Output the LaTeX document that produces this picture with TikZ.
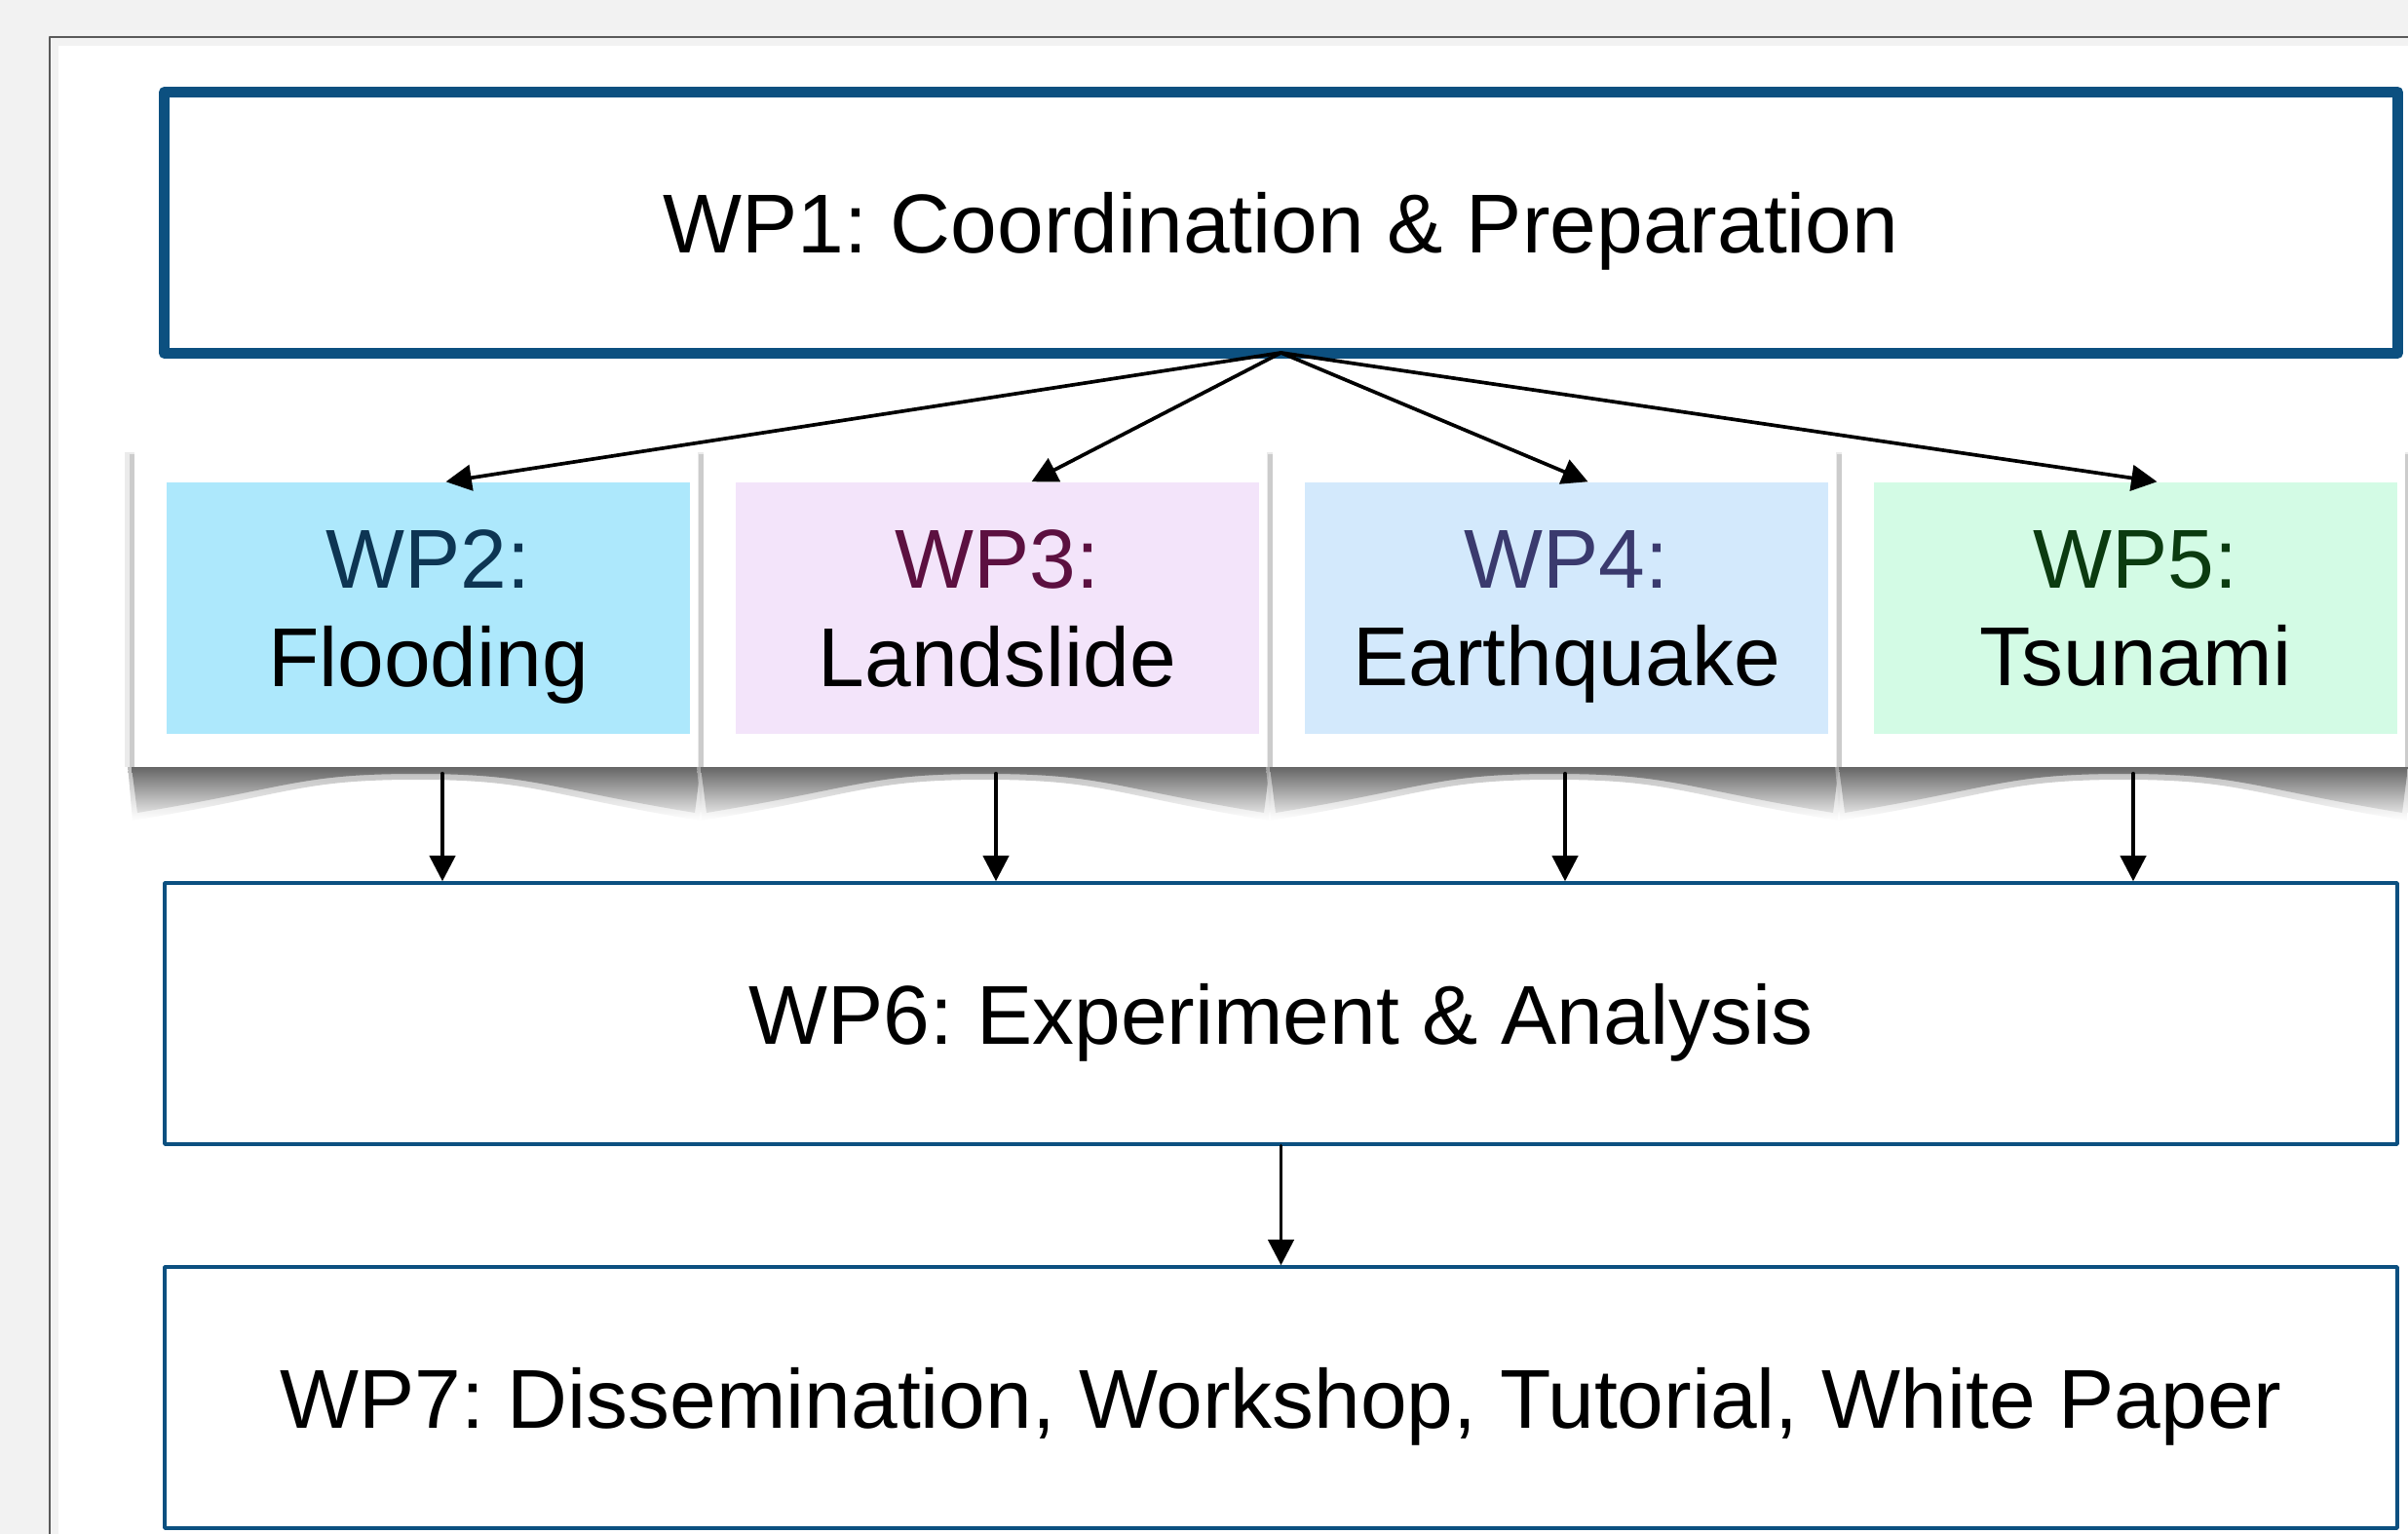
\documentclass[tikz,border=0pt]{standalone}
\usepackage{fontspec}
\setmainfont{Liberation Sans}
\usepackage{tikz}
\usetikzlibrary{arrows.meta,positioning}
\frenchspacing

\definecolor{wpblue}{HTML}{0C5080}
\definecolor{pagegray}{HTML}{F2F2F2}
\definecolor{framegray}{HTML}{5A5A5A}
\definecolor{floodfill}{HTML}{ADE8FC}
\definecolor{floodtext}{HTML}{0D3553}
\definecolor{slidefill}{HTML}{F3E4FA}
\definecolor{slidetext}{HTML}{5C1040}
\definecolor{quakefill}{HTML}{D3E9FC}
\definecolor{quaketext}{HTML}{3A3A6E}
\definecolor{tsunfill}{HTML}{D3FBE5}
\definecolor{tsuntext}{HTML}{0B3B10}

\tikzset{
	wpbox/.style={draw=wpblue, line width=1pt, fill=white, minimum width=22.91cm, minimum height=2.68cm, inner sep=0pt, text depth=0pt, font=\fontsize{24.4}{28.5}\selectfont},
	hazard/.style={minimum width=5.37cm, minimum height=2.58cm, inner sep=0pt, align=center, font=\fontsize{24.4}{28.5}\selectfont},
	card/.style={fill=white, minimum width=5.78cm, minimum height=3.24cm, inner sep=0pt},
	flow/.style={->, line width=1.05pt}
}

\begin{document}
\begin{tikzpicture}[line cap=round,line join=round,>={Triangle[length=7.5pt,width=7.5pt]},x=1cm,y=1cm]
		\clip (0,0) rectangle (24.71,-15.74);
		\fill[pagegray] (0,0) rectangle (24.71,-15.74);
		\fill[white] (0.60,-0.47) rectangle (24.71,-15.74);
		\draw[framegray, line width=0.6pt] (0.51,-15.74) -- (0.51,-0.38) -- (24.71,-0.38);
		% shadows under the hazard cards
		\foreach \i in {0,1,2,3} {
			\pgfmathsetmacro{\xl}{1.38+5.84*\i}
			\pgfmathsetmacro{\xr}{\xl+5.78}
			\pgfmathsetmacro{\xc}{\xl+2.89}
			\shade[top color=black!35, bottom color=white, opacity=0.8] (\xl-0.07,-7.85) -- (\xl-0.02,-8.42) .. controls (\xl+1.6,-8.15) and (\xc-1.2,-8.0) .. (\xc,-8.0) .. controls (\xc+1.2,-8.0) and (\xr-1.6,-8.15) .. (\xr+0.02,-8.42) -- (\xr+0.07,-7.85) -- cycle;
			\shade[top color=black!60, bottom color=black!12] (\xl-0.03,-7.87) -- (\xl+0.03,-8.34) .. controls (\xl+1.6,-8.08) and (\xc-1.2,-7.94) .. (\xc,-7.94) .. controls (\xc+1.2,-7.94) and (\xr-1.6,-8.08) .. (\xr-0.03,-8.34) -- (\xr+0.03,-7.87) -- cycle;
			\fill[black!8] (\xl-0.1,-4.64) rectangle (\xr+0.1,-7.87);
			\fill[black!20] (\xl-0.05,-4.66) rectangle (\xr+0.05,-7.87);
		}
		\node[card] (card2) at (4.27,-6.25) {};
		\node[card] (card3) at (10.11,-6.25) {};
		\node[card] (card4) at (15.95,-6.25) {};
		\node[card] (card5) at (21.79,-6.25) {};
		\node[hazard, fill=floodfill] (wp2) at (4.395,-6.24) {\textcolor{floodtext}{WP2:}\\\smash{Flooding}};
		\node[hazard, fill=slidefill] (wp3) at (10.235,-6.24) {\textcolor{slidetext}{WP3:}\\\smash{Landslide}};
		\node[hazard, fill=quakefill] (wp4) at (16.075,-6.24) {\textcolor{quaketext}{WP4:}\\\smash{Earthquake}};
		\node[hazard, fill=tsunfill] (wp5) at (21.915,-6.24) {\textcolor{tsuntext}{WP5:}\\\smash{Tsunami}};
		% work packages
		\node[wpbox, line width=3.1pt, minimum width=22.92cm] (wp1) at (13.145,-2.285) {WP1: Coordination \& Preparation};
		\node[wpbox] (wp6) at (13.145,-10.40) {WP6: Experiment \& Analysis};
		\node[wpbox] (wp7) at (13.145,-14.34) {WP7: Dissemination, Workshop, Tutorial, White Paper};
		\foreach \i/\dx in {2/0.18,3/0.35,4/0.22,5/0.22}
			\draw[flow] ([yshift=0.06cm]wp1.south) -- ([xshift=\dx cm]wp\i.north);
		\foreach \i/\dx in {2/0.27,3/0.11,4/0.11,5/0.10}
			\draw[flow] ([xshift=\dx cm, yshift=-0.06cm]card\i.south) -- ([xshift=\dx cm]card\i.south |- wp6.north);
		\draw[flow] (wp6) -- (wp7);
\end{tikzpicture}
\end{document}
